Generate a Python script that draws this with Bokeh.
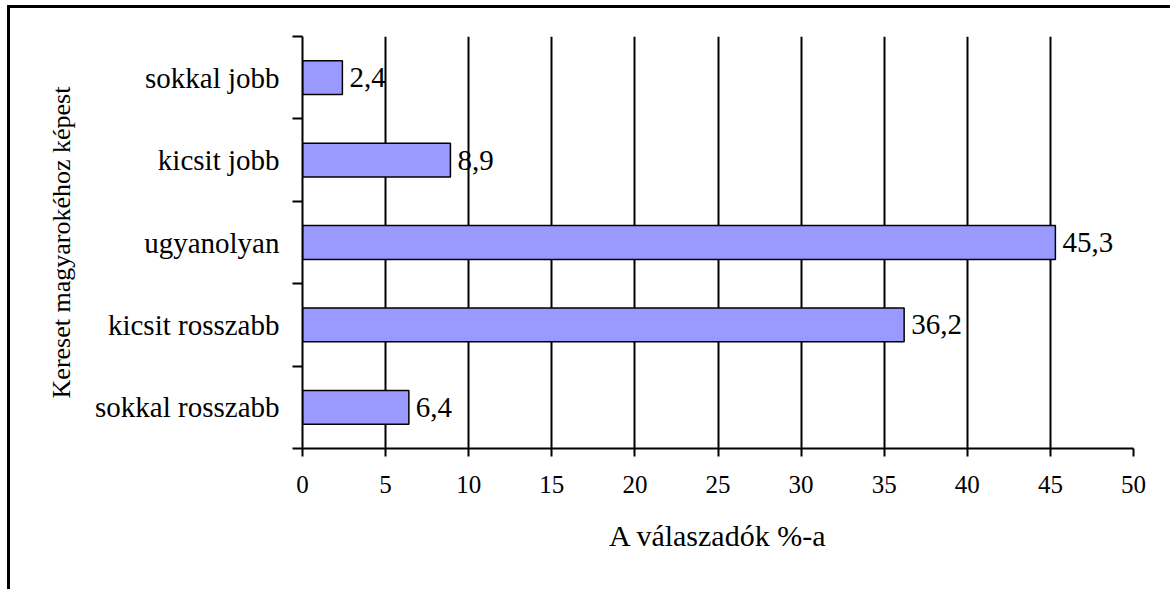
from bokeh.plotting import figure
from bokeh.models import Range1d, FixedTicker, ColumnDataSource
from bokeh.embed import file_html
from bokeh.resources import INLINE
from bokeh.core.properties import value

# ---- data ----
categories = ["sokkal rosszabb", "kicsit rosszabb", "ugyanolyan", "kicsit jobb", "sokkal jobb"]
values = [6.4, 36.2, 45.3, 8.9, 2.4]
x_ticks = [0, 5, 10, 15, 20, 25, 30, 35, 40, 45, 50]
x_title = "A válaszadók %-a"
y_title = "Kereset magyarokéhoz képest"

FONT = "Liberation Serif"

pos = [i + 0.5 for i in range(len(categories))]
labels = [f"{v:.1f}".replace(".", ",") for v in values]
src = ColumnDataSource(dict(pos=pos, val=values, lab=labels))

p = figure(width=1163, height=584,
           x_range=Range1d(0, 50), y_range=Range1d(0, len(categories)),
           output_backend="svg", toolbar_location=None,
           min_border_left=292, min_border_right=40,
           min_border_top=28, min_border_bottom=144)
p.styles = {"border-top": "3px solid black", "border-left": "3px solid black",
            "margin-left": "7px", "margin-top": "5px"}
p.outline_line_color = None
p.background_fill_color = "white"
p.border_fill_color = "white"

# grid
p.xgrid.ticker = FixedTicker(ticks=x_ticks)
p.xgrid.grid_line_color = "black"
p.xgrid.grid_line_width = 2
p.xgrid.grid_line_alpha = 1
p.ygrid.visible = False

# bars
p.hbar(y="pos", right="val", left=0, height=0.41, source=src,
       fill_color="#9999FF", line_color="black", line_width=1.5)

# value labels
p.text(x="val", y="pos", text="lab", source=src, x_offset=7,
       text_baseline="middle", text_align="left",
       text_font=value(FONT), text_font_size="29px", text_color="black")

# x axis
xa = p.xaxis[0]
xa.ticker = FixedTicker(ticks=x_ticks)
xa.axis_line_width = 2
xa.axis_line_color = "black"
xa.major_tick_line_width = 2
xa.major_tick_line_color = "black"
xa.major_tick_out = 8
xa.major_tick_in = 0
xa.minor_tick_line_color = None
xa.major_label_text_font = FONT
xa.major_label_text_font_size = "25px"
xa.major_label_text_color = "black"
xa.major_label_standoff = 19
xa.axis_label = x_title
xa.axis_label_text_font = FONT
xa.axis_label_text_font_size = "30px"
xa.axis_label_text_font_style = "normal"
xa.axis_label_text_color = "black"
xa.axis_label_standoff = 23

# y axis
ya = p.yaxis[0]
ya.ticker = FixedTicker(ticks=pos, minor_ticks=list(range(len(categories) + 1)))
ya.major_label_overrides = {pp: c for pp, c in zip(pos, categories)}
ya.axis_line_width = 2
ya.axis_line_color = "black"
ya.major_tick_line_color = None
ya.major_tick_out = 0
ya.major_tick_in = 0
ya.minor_tick_line_color = "black"
ya.minor_tick_line_width = 2
ya.minor_tick_out = 10
ya.minor_tick_in = 0
ya.major_label_text_font = FONT
ya.major_label_text_font_size = "29px"
ya.major_label_text_color = "black"
ya.major_label_standoff = 13
ya.axis_label = y_title
ya.axis_label_text_font = FONT
ya.axis_label_text_font_size = "26px"
ya.axis_label_text_font_style = "normal"
ya.axis_label_text_color = "black"
ya.axis_label_standoff = 16

open("out.html", "w").write(file_html(p, INLINE))
